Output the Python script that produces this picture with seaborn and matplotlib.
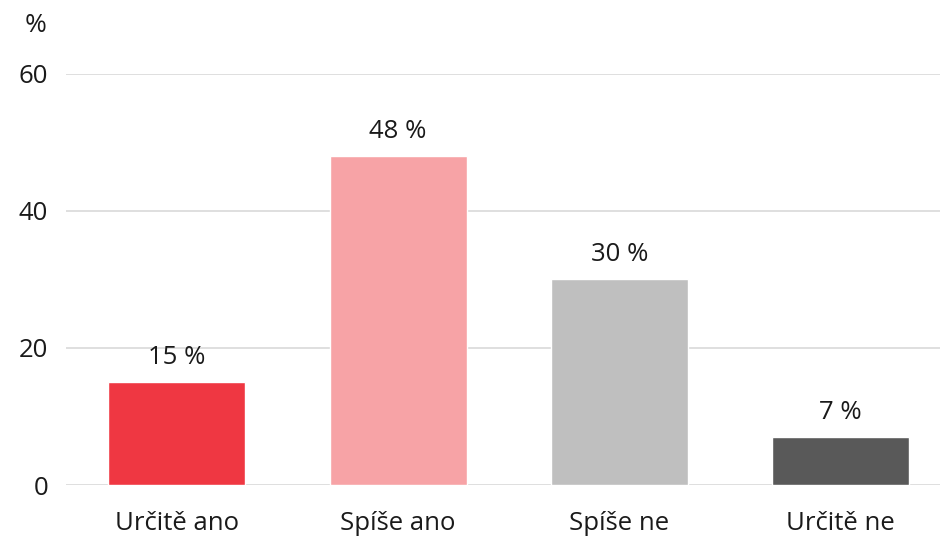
import numpy as np
import matplotlib
matplotlib.use("Agg")
import matplotlib.pyplot as plt
import pandas as pd
import seaborn as sns

# chart data
categories = ["Určitě ano", "Spíše ano", "Spíše ne", "Určitě ne"]
values = [15, 48, 30, 7]
labels = ["15 %", "48 %", "30 %", "7 %"]
colors = ["#EF3742", "#F7A3A6", "#BFBFBF", "#595959"]

sns.set_style("white")
plt.rcParams['font.family'] = ['Open Sans', 'DejaVu Sans']

df = pd.DataFrame({"cat": categories, "val": values})

fig = plt.figure(figsize=(9.4, 5.36), dpi=100)
ax = fig.add_axes([0.0705, 0.0951, 0.9415, 0.767])

sns.barplot(data=df, x="cat", y="val", hue="cat", palette=colors,
            width=0.62, legend=False, ax=ax, saturation=1)

ax.set_ylim(0, 60)
ax.set_yticks([0, 20, 40, 60])
ax.yaxis.grid(True, color="#D9D9D9", linewidth=1.2)
ax.set_axisbelow(True)
for s in ax.spines.values():
    s.set_visible(False)
ax.set_xlabel("")
ax.set_ylabel("")
ax.tick_params(axis="both", length=0, labelsize=18.5, colors="#1a1a1a")
ax.tick_params(axis="x", pad=19)
ax.tick_params(axis="y", pad=13)

for i, (v, t) in enumerate(zip(values, labels)):
    ax.annotate(t, (i, v), xytext=(0, 9), textcoords="offset points",
                ha="center", va="bottom", fontsize=18.5, color="#1a1a1a")

fig.text(36 / 940, 1 - 26 / 536, "%", ha="center", va="center",
         fontsize=19, color="#1a1a1a")

plt.savefig("out.png", dpi=100)
